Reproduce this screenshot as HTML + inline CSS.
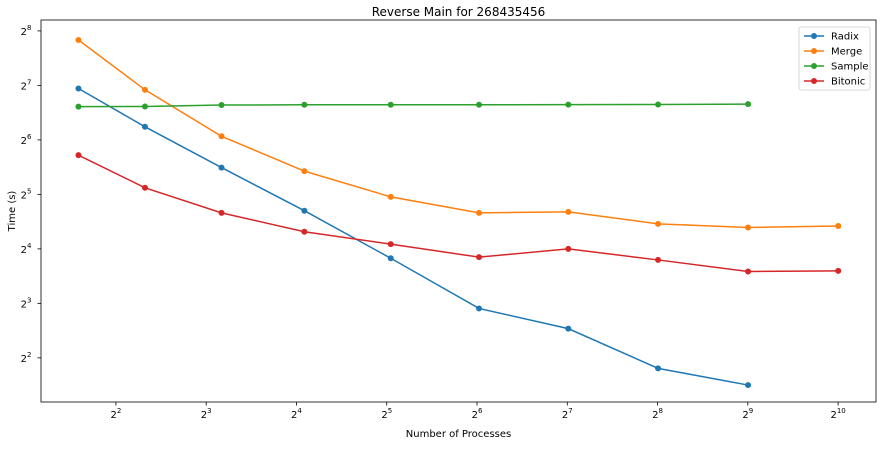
<!DOCTYPE html>
<html><head><meta charset="utf-8"><style>
body{margin:0;background:#fff;font-family:"Liberation Sans","DejaVu Sans",sans-serif;}
svg text{font-family:"DejaVu Sans","Liberation Sans",sans-serif;}
</style></head><body>
<svg id="chart" width="884" height="445" xmlns="http://www.w3.org/2000/svg"></svg>
<script>
const xValues=[3,5,9,17,33,65,129,257,513,1025];
const radix=[123,75.6,45,26,14.2,7.5,5.8,3.5,2.83];
const merge=[228,121,67,43,31,25.3,25.6,22,21,21.4];
const sample=[97.7,97.9,99.7,100,100,100.1,100.2,100.4,100.8];
const bitonic=[52.7,34.8,25.3,19.9,17.0,14.4,16,13.9,12,12.1];
const xTickExp=[2,3,4,5,6,7,8,9,10];
const yTickExp=[2,3,4,5,6,7,8];
const seriesNames=["Radix","Merge","Sample","Bitonic"];
const colors=["#1f77b4","#ff7f0e","#2ca02c","#d62728"];
const L=41,R=876,T=20,B=402;
const xMin=1.17,xMax=10.42,yMin=1.19,yMax=8.2;
const sx=v=>L+(Math.log2(v)-xMin)/(xMax-xMin)*(R-L);
const sy=v=>B-(Math.log2(v)-yMin)/(yMax-yMin)*(B-T);
const svg=document.getElementById('chart');
const NS="http://www.w3.org/2000/svg";
function mk(tag,attrs,parent){const e=document.createElementNS(NS,tag);for(const k in attrs)e.setAttribute(k,attrs[k]);(parent||svg).appendChild(e);return e;}
const title=mk('text',{x:(L+R)/2,y:16,'text-anchor':'middle','font-size':12});


title.textContent="Reverse Main for 268435456";
const frame=mk('rect',{x:L,y:T,width:R-L,height:B-T,fill:'none',stroke:'#000','stroke-width':0.8});


xTickExp.forEach(e=>{const x=sx(Math.pow(2,e));
 mk('line',{x1:x,x2:x,y1:B,y2:B+3.5,stroke:'#000','stroke-width':0.8});
 const t=mk('text',{x:x,y:B+16,'text-anchor':'middle','font-size':10});
 
 
 t.innerHTML='2<tspan dy="-5" font-size="7">'+e+'</tspan>';});
yTickExp.forEach(e=>{const y=sy(Math.pow(2,e));
 mk('line',{x1:L-3.5,x2:L,y1:y,y2:y,stroke:'#000','stroke-width':0.8});
 const t=mk('text',{x:L-15,y:y+4,'text-anchor':'middle','font-size':10});
 
 
 t.innerHTML='2<tspan dy="-5" font-size="7">'+e+'</tspan>';});
const xt=mk('text',{x:(L+R)/2,y:437,'text-anchor':'middle','font-size':10});


xt.textContent="Number of Processes";
const yt=mk('text',{x:15,y:(T+B)/2,'text-anchor':'middle','font-size':10,transform:'rotate(-90 15 '+(T+B)/2+')'});


yt.textContent="Time (s)";
[radix,merge,sample,bitonic].forEach((s,i)=>{
 const g=mk('g',{});
 
 
 const pts=s.map((v,j)=>sx(xValues[j])+','+sy(v)).join(' ');
 mk('polyline',{points:pts,fill:'none',stroke:colors[i],'stroke-width':1.5},g);
 s.forEach((v,j)=>{const c=mk('circle',{cx:sx(xValues[j]),cy:sy(v),r:3,fill:colors[i]},g);
  
  });
});
const lg=mk('g',{});


mk('rect',{x:799,y:27,width:71,height:63,rx:2,fill:'#fff',stroke:'#ccc','stroke-width':0.8},lg);
seriesNames.forEach((n,i)=>{const y=36+i*15;
 const e=mk('g',{},lg);
 
 
 mk('line',{x1:804,x2:824,y1:y,y2:y,stroke:colors[i],'stroke-width':1.5},e);
 mk('circle',{cx:814,cy:y,r:3,fill:colors[i]},e);
 const t=mk('text',{x:831,y:y+3.5,'font-size':10},e);t.textContent=n;});
</script>
</body></html>
